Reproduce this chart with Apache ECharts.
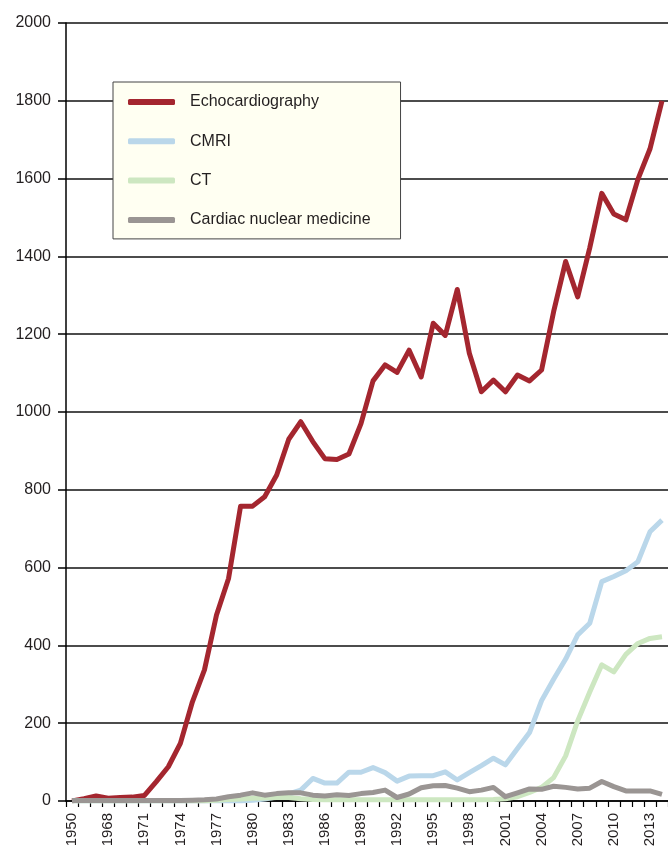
<!DOCTYPE html>
<html>
<head>
<meta charset="utf-8">
<script src="https://cdn.jsdelivr.net/npm/echarts@6/dist/echarts.min.js"></script>
<style>
html,body{margin:0;padding:0;background:#fff;}
#chart{width:668px;height:852px;}
</style>
</head>
<body>
<div id="chart"></div>
<script>
const years = ["1950","1966","1967","1968","1969","1970","1971","1972","1973","1974","1975","1976","1977","1978","1979","1980","1981","1982","1983","1984","1985","1986","1987","1988","1989","1990","1991","1992","1993","1994","1995","1996","1997","1998","1999","2000","2001","2002","2003","2004","2005","2006","2007","2008","2009","2010","2011","2012","2013","2014"];

const echo = [0,6,13,7,9,10,14,50,88,148,255,337,478,572,758,758,782,838,930,975,924,880,878,892,970,1080,1121,1102,1159,1090,1228,1197,1315,1151,1052,1082,1052,1095,1080,1108,1258,1387,1296,1422,1562,1509,1494,1598,1676,1800];

const cmri = [0,0,0,0,0,0,0,0,0,0,0,0,0,0,0,2,5,10,18,28,58,46,46,74,74,86,73,51,64,65,65,75,54,73,91,110,93,135,176,258,313,365,427,457,564,577,592,615,692,722];

const ct = [0,0,0,0,0,0,0,0,0,0,0,0,2,4,5,7,8,9,9,6,4,3,3,3,3,3,3,3,3,3,3,3,3,3,3,4,6,11,22,35,60,116,206,280,350,332,377,405,418,422];

const nuclear = [1,1,1,1,1,1,1,1,1,1,2,3,5,11,15,21,15,19,21,21,15,13,16,14,19,22,28,9,18,34,39,40,33,24,28,35,11,21,31,30,38,35,31,33,50,37,26,26,26,17];

const yTicks = [0,200,400,600,800,1000,1200,1400,1600,1800,2000];

const names = ["Echocardiography","CMRI","CT","Cardiac nuclear medicine"];
const colors = ["#a4262f","#bad7ea","#cde7c1","#9a9593"];
const seriesData = [echo, cmri, ct, nuclear];

const chart = echarts.init(document.getElementById('chart'), null, {renderer:'canvas'});
const font = "'Liberation Sans', Arial, sans-serif";

chart.setOption({
  animation: false,
  backgroundColor: '#ffffff',
  grid: {left: 66, top: 23, right: -6, bottom: 51, containLabel: false},
  legend: {
    data: names,
    orient: 'vertical',
    left: 113,
    top: 82,
    padding: [10, 30, 9, 15],
    itemGap: 19.3,
    itemWidth: 47,
    itemHeight: 6,
    icon: 'roundRect',
    backgroundColor: '#fffff2',
    borderColor: '#444',
    borderWidth: 1,
    textStyle: {fontFamily: font, fontSize: 16, color: '#231f20', lineHeight: 20, padding: [0,0,0,10]}
  },
  xAxis: {
    type: 'category',
    data: years,
    boundaryGap: true,
    axisLine: {lineStyle: {color: '#000', width: 1.5}},
    axisTick: {show: true, interval: 0, length: 6, lineStyle: {color: '#000', width: 1.2}},
    axisLabel: {interval: 2, rotate: 90, fontFamily: font, fontSize: 15, color: '#231f20', margin: 12},
    splitLine: {show: false}
  },
  yAxis: {
    type: 'value',
    min: yTicks[0],
    max: yTicks[yTicks.length-1],
    interval: 200,
    axisLine: {show: true, lineStyle: {color: '#000', width: 1.5}},
    axisTick: {show: true, length: 8, lineStyle: {color: '#000', width: 1.5}},
    axisLabel: {fontFamily: font, fontSize: 16, color: '#231f20', margin: 15, formatter: v => String(v)},
    splitLine: {show: true, lineStyle: {color: '#111', width: 1.5}}
  },
  series: names.map((n, i) => ({
    name: n,
    type: 'line',
    data: seriesData[i],
    symbol: 'none',
    lineStyle: {color: colors[i], width: 5, join: 'round'},
    itemStyle: {color: colors[i]},
    z: 2 + i
  }))
});
</script>
</body>
</html>
